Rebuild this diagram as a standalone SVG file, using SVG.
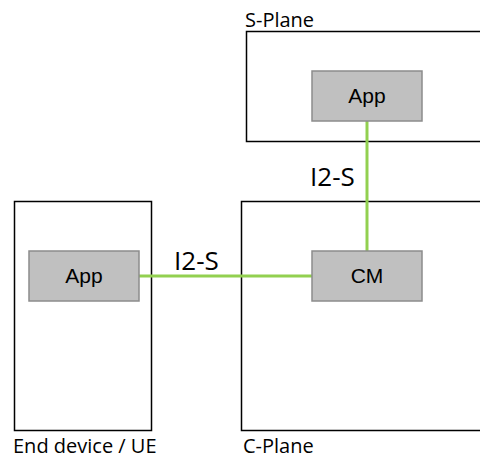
<svg xmlns="http://www.w3.org/2000/svg" width="480" height="459" viewBox="0 0 480 459">
<style>
.plane{fill:#fff;stroke:#000;stroke-width:1.5}
.comp{fill:#c0c0c0;stroke:#8c8c8c;stroke-width:1.5}
.ct{font-family:"Liberation Sans",Arial,sans-serif;font-size:21px;fill:#000;text-anchor:middle}
.lbl{font-family:"Open Sans","DejaVu Sans",sans-serif;font-size:20px;fill:#000}
.if{font-family:"Open Sans","DejaVu Sans",sans-serif;font-size:26px;fill:#000}
.link{stroke:#92d050;stroke-width:3;fill:none}
</style>
<rect width="480" height="459" fill="#fff"/>
<g id="s-plane">
<rect class="plane" x="246.5" y="31.5" width="240" height="110"/>
<text class="lbl" x="245" y="27">S-Plane</text>
</g>
<g id="end-device">
<rect class="plane" x="14.5" y="201.5" width="137" height="229"/>
<text class="lbl" x="13" y="453">End device / UE</text>
</g>
<g id="c-plane">
<rect class="plane" x="241.5" y="201.5" width="250" height="229"/>
<text class="lbl" x="243" y="453">C-Plane</text>
</g>
<g id="connectors">
<line class="link" x1="139" y1="276" x2="312" y2="276"/>
<line class="link" x1="367" y1="121" x2="367" y2="251"/>
<text class="if" x="174" y="270">I2-S</text>
<text class="if" x="310" y="186">I2-S</text>
</g>
<g id="app-s">
<rect class="comp" x="312" y="71" width="110" height="50"/>
<text class="ct" x="367" y="103">App</text>
</g>
<g id="app-ue">
<rect class="comp" x="29" y="251" width="110" height="50"/>
<text class="ct" x="84" y="283">App</text>
</g>
<g id="cm">
<rect class="comp" x="312" y="251" width="110" height="50"/>
<text class="ct" x="367" y="283">CM</text>
</g>
</svg>
